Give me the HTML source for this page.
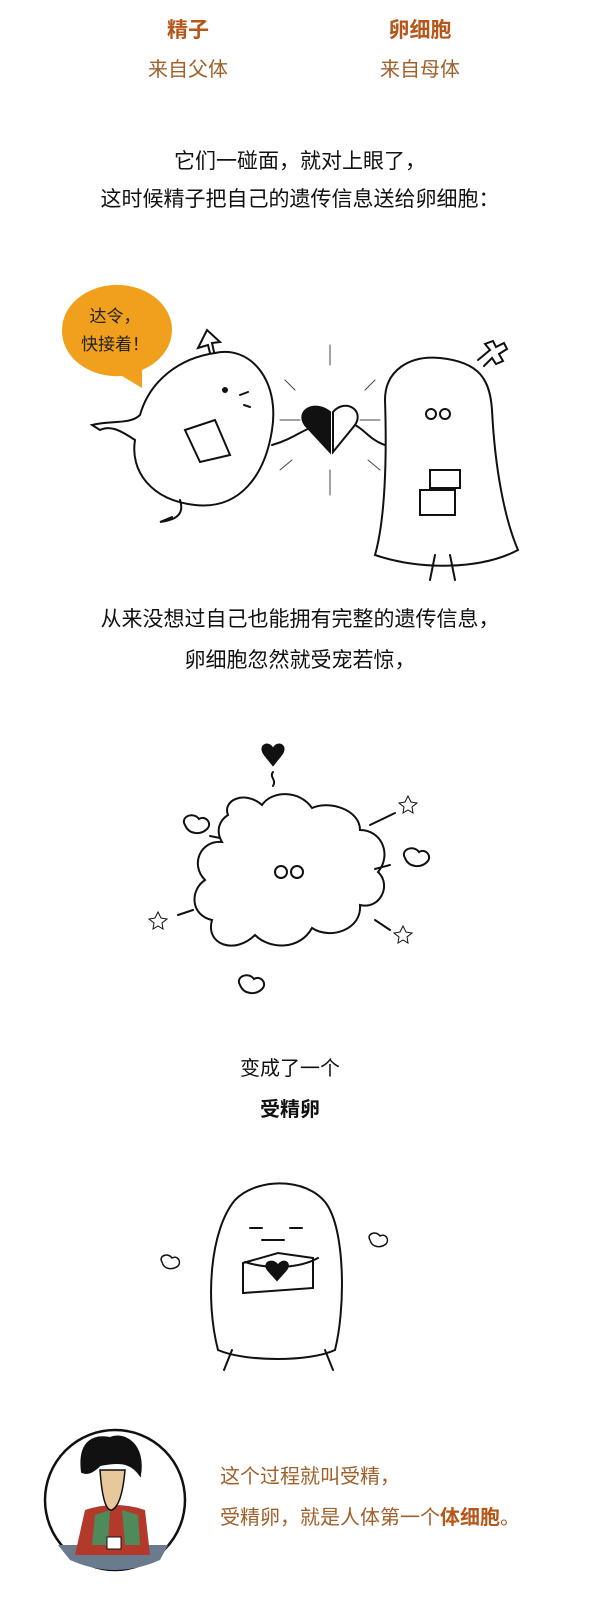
<!DOCTYPE html>
<html><head><meta charset="utf-8"><style>
html,body{margin:0;padding:0;background:#fff;}
body{width:600px;height:1600px;position:relative;overflow:hidden;font-family:"Liberation Sans","Noto Sans CJK SC",sans-serif;}
.t{position:absolute;white-space:nowrap;line-height:1;}
.c{left:0;width:600px;text-align:center;}
svg{position:absolute;left:0;top:0;}
</style></head><body>
<div class="t" style="left:138px;width:100px;text-align:center;top:20px;font-size:21px;font-weight:bold;color:#b5561a;">精子</div>
<div class="t" style="left:370px;width:100px;text-align:center;top:20px;font-size:21px;font-weight:bold;color:#b5561a;">卵细胞</div>
<div class="t" style="left:128px;width:120px;text-align:center;top:60px;font-size:20px;color:#a0602a;">来自父体</div>
<div class="t" style="left:360px;width:120px;text-align:center;top:60px;font-size:20px;color:#a0602a;">来自母体</div>
<div class="t c" style="top:151px;font-size:21px;color:#111;">它们一碰面，就对上眼了，</div>
<div class="t c" style="top:189px;font-size:21px;color:#111;">这时候精子把自己的遗传信息送给卵细胞：</div>
<div class="t c" style="top:609px;font-size:21px;color:#111;">从来没想过自己也能拥有完整的遗传信息，</div>
<div class="t c" style="top:650px;font-size:21px;color:#111;">卵细胞忽然就受宠若惊，</div>
<div class="t" style="left:230px;width:120px;text-align:center;top:1059px;font-size:20px;color:#111;">变成了一个</div>
<div class="t" style="left:230px;width:120px;text-align:center;top:1100px;font-size:20px;font-weight:bold;color:#111;">受精卵</div>
<div class="t" style="left:220px;top:1467px;font-size:20px;color:#a0602a;">这个过程就叫受精，</div>
<div class="t" style="left:220px;top:1508px;font-size:20px;color:#a0602a;">受精卵，就是人体第一个<b style="color:#b5561a">体细胞</b>。</div>

<svg width="600" height="1600" viewBox="0 0 600 1600" fill="none" stroke="#111" stroke-width="2" stroke-linecap="round">
<!-- speech bubble -->
<path d="M62 330 a55 45 0 1 1 80 40 l 0 18 l -20 -12 a55 45 0 0 1 -60 -46z" fill="#f0a01c" stroke="none"/>
<text x="115" y="322" font-size="17" fill="#222" stroke="none" text-anchor="middle" font-family="Liberation Sans,Noto Sans CJK SC,sans-serif">达令，</text>
<text x="115" y="350" font-size="17" fill="#222" stroke="none" text-anchor="middle" font-family="Liberation Sans,Noto Sans CJK SC,sans-serif">快接着！</text>
<!-- male blob -->
<path d="M215 353 C250 345 280 380 272 430 C265 475 240 510 195 505 C150 500 130 470 135 440 C120 430 110 425 100 430 L92 425 C110 420 130 425 140 415 C150 380 180 358 215 353Z"/>
<path d="M210 353 L208 345 L198 348 L207 330 L220 342 L212 343 L214 352"/>
<path d="M180 500 C185 515 175 520 160 522 L172 517"/>
<path d="M185 430 L215 420 L230 455 L200 462Z M185 430 L200 462"/>
<circle cx="225" cy="390" r="2" fill="#111"/><path d="M240 395 l8 -3 M244 405 l6 2"/>
<!-- heart -->
<path d="M330 452 L305 425 C295 410 315 400 330 412Z" fill="#111"/>
<path d="M333 452 L355 425 C365 410 345 398 333 412Z"/>
<path d="M272 445 C290 440 300 432 310 428 M355 425 C365 430 370 440 385 445"/>
<g stroke-width="1" stroke="#444"><path d="M330 345 v20 M330 470 v25 M285 380 l10 10 M375 380 l-10 10 M280 470 l12 -10 M380 470 l-12 -10 M300 420 h-20 M360 420 h20"/></g>
<!-- female blob -->
<path d="M385 400 C385 370 410 355 440 358 C480 362 490 380 492 410 C495 470 505 520 518 550 C480 570 420 570 375 555 C385 520 387 460 385 400Z"/>
<path d="M478 360 l12 -10 l-5 -6 l8 -3 l3 6 l8 -4 l3 6 l-8 5 l4 7 l-7 3 l-4 -6 l-8 8"/>
<circle cx="431" cy="414" r="5"/><circle cx="445" cy="414" r="5"/>
<path d="M430 470 h30 v18 h-30z M420 490 h35 v25 h-35z M435 555 l-5 25 M450 555 l5 25"/>
<!-- cloud -->
<path d="M228 815 C222 800 245 790 262 805 C272 790 300 790 312 808 C330 800 360 810 360 830 C382 830 392 855 378 872 C392 885 380 910 360 905 C362 930 330 940 312 928 C300 950 270 950 255 935 C235 955 205 945 212 920 C190 915 190 890 205 880 C190 865 200 840 222 842 C215 830 220 820 228 815Z"/>
<circle cx="281" cy="872" r="6"/><circle cx="297" cy="872" r="6"/>
<path d="M265 755 c-8 -10 5 -15 8 -5 c3 -10 16 -5 8 5 l-8 10z" fill="#111"/>
<path d="M273 772 c-4 5 4 8 0 14"/>
<path d="M185 825 c-5 -8 8 -14 14 -6 c6 -4 14 4 8 10 c-6 6 -18 6 -22 -4z M210 836 l10 2"/>
<path d="M405 858 c-5 -8 8 -14 14 -6 c6 -4 14 4 8 10 c-6 6 -18 6 -22 -4z M390 865 l-15 4"/>
<path d="M240 985 c-5 -8 8 -14 14 -6 c6 -4 14 4 8 10 c-6 6 -18 6 -22 -4z"/>
<path d="M370 825 l25 -12 M178 915 l15 -5 M375 920 l15 10"/>
<path d="M155 918 l3 -6 l3 6 l6 1 l-5 4 l1 6 l-5 -3 l-5 3 l1 -6 l-5 -4z" stroke-width="1"/>
<path d="M405 802 l3 -6 l3 6 l6 1 l-5 4 l1 6 l-5 -3 l-5 3 l1 -6 l-5 -4z" stroke-width="1"/>
<path d="M400 932 l3 -6 l3 6 l6 1 l-5 4 l1 6 l-5 -3 l-5 3 l1 -6 l-5 -4z" stroke-width="1"/>
<!-- fertilized egg -->
<path d="M218 1350 C205 1300 210 1230 235 1200 C260 1175 315 1178 330 1210 C345 1240 345 1310 335 1350 C310 1362 245 1362 218 1350Z"/>
<path d="M245 1262 C270 1270 300 1268 318 1258 M250 1228 h12 M290 1228 h12 M262 1240 h22"/>
<path d="M243 1263 l35 -10 l35 5 l0 30 l-70 5z"/>
<path d="M268 1270 c-6 -8 6 -12 10 -4 c4 -8 14 -4 8 4 l-9 10z" fill="#111"/>
<path d="M232 1350 l-8 20 M325 1350 l8 20"/>
<path d="M162 1262 c-4 -6 6 -10 10 -4 c5 -3 10 3 6 8 c-5 4 -14 4 -16 -4z M370 1240 c-4 -6 6 -10 10 -4 c5 -3 10 3 6 8 c-5 4 -14 4 -16 -4z" stroke-width="1.5"/>
<!-- avatar -->
<ellipse cx="115" cy="1500" rx="70" ry="70" stroke-width="2.5"/>
<path d="M58 1545 Q115 1545 168 1545 L160 1560 Q115 1580 70 1560Z" fill="#6b7b8e" stroke="none"/>
<path d="M75 1555 L85 1510 Q115 1500 145 1510 L150 1555Z" fill="#b3392b" stroke="none"/>
<path d="M92 1545 L95 1515 L110 1510 L108 1545Z M125 1545 L122 1510 L138 1515 L140 1545Z" fill="#4f8a5b" stroke="none"/>
<path d="M100 1470 Q103 1512 112 1510 Q122 1505 125 1470Z" fill="#e8c89a" stroke-width="1.5"/>
<path d="M82 1472 C78 1440 95 1435 110 1438 C125 1432 145 1445 140 1475 C130 1460 115 1462 100 1465 C95 1470 88 1475 82 1472Z" fill="#111"/>
<rect x="107" y="1537" width="14" height="12" fill="#fff" stroke-width="1"/>
</svg>
</body></html>
